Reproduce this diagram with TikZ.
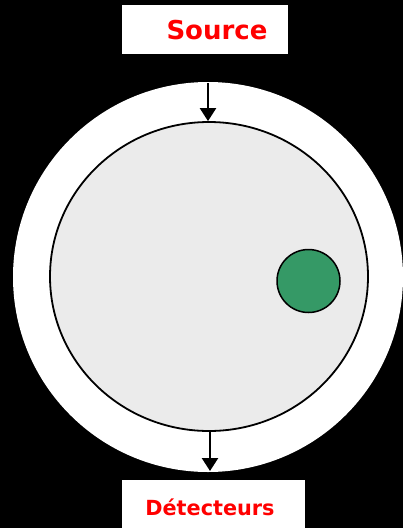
\documentclass[tikz,border=0pt]{standalone}
\usepackage{fontspec}
\setmainfont{DejaVu Sans}
\usetikzlibrary{arrows.meta,shapes.geometric}
\definecolor{bodyfill}{HTML}{EBEBEB}
\definecolor{lesion}{HTML}{359966}
\begin{document}
\begin{tikzpicture}[x=1pt,y=-1pt,
  labeltext/.style={text=red},
  ray/.style={line width=2.4pt,-{Triangle[width=16pt,length=13pt]}}]
\fill[black] (0,0) rectangle (403,528);
\useasboundingbox (0,0) rectangle (403,528);
\begin{scope}
\clip (0,0) rectangle (403,528);
\fill[white] (208,277) circle[radius=195];
\end{scope}
\node[draw=black,line width=1.8pt,fill=bodyfill,ellipse,inner sep=0pt,minimum width=318pt,minimum height=309pt] (body) at (209,276.5) {};
\node[draw=black,line width=1.5pt,fill=lesion,circle,inner sep=0pt,minimum size=63pt] (spot) at (308.5,281) {};
\fill[white] (122,5) rectangle (288,54);
\node[labeltext,font=\bfseries\fontsize{26}{26}\selectfont] (src) at (217,30) {Source};
\fill[white] (122,480) rectangle (305,528);
\node[labeltext,font=\bfseries\fontsize{20.8}{21}\selectfont] (det) at (210,507) {Détecteurs};
\coordinate (srcstart) at (208,83);
\coordinate (detend) at (210,471);
\draw[ray] (srcstart) -- (srcstart |- body.north);
\draw[ray] (body.south -| detend) -- (detend);
\end{tikzpicture}
\end{document}
